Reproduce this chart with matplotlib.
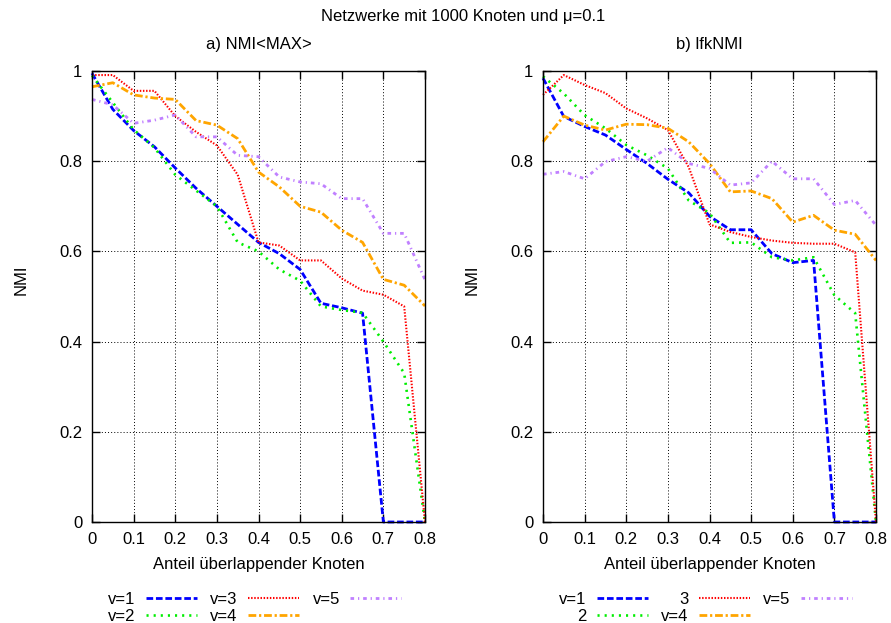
import matplotlib
matplotlib.use("Agg")
import matplotlib.pyplot as plt

plt.rcParams['font.family'] = ['Liberation Sans', 'DejaVu Sans']

# ---------------- data ----------------
x_vals = [0.0, 0.05, 0.1, 0.15, 0.2, 0.25, 0.3, 0.35, 0.4, 0.45, 0.5, 0.55, 0.6, 0.65, 0.7, 0.75, 0.8]
x_ticks = [0, 0.1, 0.2, 0.3, 0.4, 0.5, 0.6, 0.7, 0.8]
x_ticklabels = ['0', '0.1', '0.2', '0.3', '0.4', '0.5', '0.6', '0.7', '0.8']
y_ticks = [0, 0.2, 0.4, 0.6, 0.8, 1.0]
y_ticklabels = ['0', '0.2', '0.4', '0.6', '0.8', '1']

# a) NMI<MAX>
max_v1 = [0.995, 0.915, 0.868, 0.832, 0.785, 0.74, 0.70, 0.66, 0.62, 0.595, 0.56, 0.485, 0.475, 0.463, 0.0, 0.0, 0.0]
max_v2 = [0.99, 0.93, 0.87, 0.83, 0.77, 0.735, 0.70, 0.62, 0.60, 0.56, 0.535, 0.478, 0.47, 0.464, 0.40, 0.33, 0.0]
max_v3 = [0.991, 0.991, 0.956, 0.956, 0.90, 0.865, 0.835, 0.77, 0.62, 0.613, 0.58, 0.58, 0.54, 0.513, 0.504, 0.478, 0.0]
max_v4 = [0.965, 0.974, 0.947, 0.94, 0.937, 0.89, 0.88, 0.85, 0.776, 0.743, 0.70, 0.687, 0.647, 0.62, 0.538, 0.525, 0.479]
max_v5 = [0.937, 0.925, 0.884, 0.891, 0.9025, 0.854, 0.854, 0.813, 0.81, 0.765, 0.754, 0.75, 0.717, 0.717, 0.64, 0.64, 0.537]

# b) lfkNMI
lfk_v1 = [0.984, 0.899, 0.877, 0.858, 0.826, 0.795, 0.76, 0.73, 0.678, 0.648, 0.648, 0.595, 0.575, 0.58, 0.0, 0.0, 0.0]
lfk_v2 = [0.988, 0.95, 0.902, 0.873, 0.836, 0.813, 0.784, 0.713, 0.685, 0.619, 0.62, 0.587, 0.58, 0.587, 0.503, 0.463, 0.0]
lfk_v3 = [0.947, 0.991, 0.969, 0.951, 0.917, 0.895, 0.869, 0.787, 0.66, 0.643, 0.632, 0.624, 0.619, 0.617, 0.617, 0.598, 0.0]
lfk_v4 = [0.843, 0.90, 0.88, 0.869, 0.882, 0.881, 0.873, 0.843, 0.795, 0.732, 0.734, 0.717, 0.665, 0.68, 0.647, 0.638, 0.58]
lfk_v5 = [0.771, 0.777, 0.761, 0.799, 0.81, 0.80, 0.83, 0.795, 0.784, 0.747, 0.752, 0.80, 0.761, 0.761, 0.704, 0.713, 0.658]

labels_a = ['v=1', 'v=2', 'v=3', 'v=4', 'v=5']
labels_b = ['v=1', '2', '3', 'v=4', 'v=5']

main_title = 'Netzwerke mit 1000 Knoten und μ=0.1'
sub_titles = ['a) NMI<MAX>', 'b) lfkNMI']
x_label = 'Anteil überlappender Knoten'
y_label = 'NMI'

# ---------------- styles ----------------
styles = [
    dict(color='#0000ff', lw=2.0, dashes=(2.4, 1.0)),
    dict(color='#00ee00', lw=1.9, dashes=(0.8, 1.9)),
    dict(color='#ff0000', lw=1.5, dashes=(0.7, 0.8)),
    dict(color='#ffa500', lw=2.0, dashes=(2.8, 1.0, 0.8, 1.0)),
    dict(color='#c080ff', lw=2.0, dashes=(1.3, 1.4, 0.45, 1.4)),
]

FS = 12
W, H = 891, 623
fig = plt.figure(figsize=(W / 100, H / 100), dpi=100)

ax_left_px = [92, 543]
ax_w_px = 333
ax_top_px, ax_bot_px = 71, 522

datasets = [
    [max_v1, max_v2, max_v3, max_v4, max_v5],
    [lfk_v1, lfk_v2, lfk_v3, lfk_v4, lfk_v5],
]
all_labels = [labels_a, labels_b]

for i in range(2):
    l = ax_left_px[i]
    ax = fig.add_axes([l / W, 1 - ax_bot_px / H, ax_w_px / W, (ax_bot_px - ax_top_px) / H])
    ax.set_xlim(0, 0.8)
    ax.set_ylim(0, 1)
    ax.set_xticks(x_ticks)
    ax.set_xticklabels(x_ticklabels)
    ax.set_yticks(y_ticks)
    ax.set_yticklabels(y_ticklabels)
    ax.tick_params(direction='in', length=6, width=1, top=True, right=True,
                   labelsize=FS, pad=7, colors='black')
    for sp in ax.spines.values():
        sp.set_linewidth(1.0)
    ax.grid(True, color='black', linestyle=(0, (1, 2.2)), linewidth=0.7)
    ax.set_axisbelow(True)

    handles = []
    for ys, st in zip(datasets[i], styles):
        ln, = ax.plot(x_vals, ys, color=st['color'], lw=st['lw'], clip_on=False)
        ln.set_dashes(st['dashes'])
        ln.set_dash_capstyle('butt')
        handles.append(ln)

    # legend: column-major (v1,v2 | v3,v4 | v5)
    ax.legend(handles, all_labels[i], ncol=3, loc='upper left',
              bbox_to_anchor=(16 / ax_w_px, -(592 - ax_bot_px) / (ax_bot_px - ax_top_px)),
              frameon=False, markerfirst=False, fontsize=FS,
              handlelength=3.05, handletextpad=0.62, columnspacing=0.82,
              labelspacing=0.1, borderpad=0, borderaxespad=0)

    cx = (l + ax_w_px / 2) / W
    fig.text(cx, 1 - 44 / H, sub_titles[i], ha='center', va='center', fontsize=FS)
    fig.text(cx, 1 - 564 / H, x_label, ha='center', va='center', fontsize=FS)
    fig.text((l - 71) / W, 1 - 280 / H, y_label, ha='center', va='center',
             rotation=90, fontsize=FS)

fig.text(463 / W, 1 - 17 / H, main_title, ha='center', va='center', fontsize=FS)

fig.savefig('out.png', dpi=100)
